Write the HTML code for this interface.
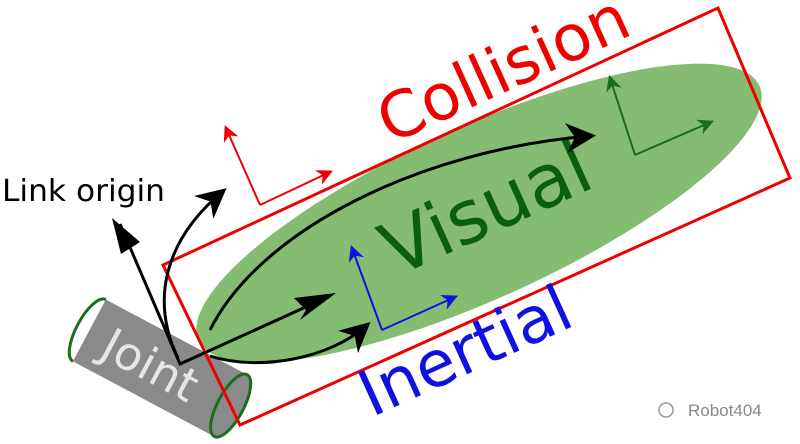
<!DOCTYPE html>
<html><head><style>html,body{margin:0;padding:0;background:#fff;}svg{display:block}</style></head>
<body>
<svg width="800" height="444" viewBox="0 0 800 444" xmlns="http://www.w3.org/2000/svg" font-family="'DejaVu Sans','Liberation Sans',sans-serif">
<defs>
<marker id="abig" viewBox="0 0 10 10" refX="8" refY="5" markerWidth="30" markerHeight="30" orient="auto" markerUnits="userSpaceOnUse"><path d="M0,0 L10,5 L0,10 L3,5z" fill="#000"/></marker>
<marker id="ar" viewBox="0 0 10 10" refX="8" refY="5" markerWidth="16" markerHeight="16" orient="auto" markerUnits="userSpaceOnUse"><path d="M0,0 L10,5 L0,10 L3,5z" fill="#e00"/></marker>
<marker id="ag" viewBox="0 0 10 10" refX="8" refY="5" markerWidth="16" markerHeight="16" orient="auto" markerUnits="userSpaceOnUse"><path d="M0,0 L10,5 L0,10 L3,5z" fill="#1a6e1a"/></marker>
<marker id="abl" viewBox="0 0 10 10" refX="8" refY="5" markerWidth="16" markerHeight="16" orient="auto" markerUnits="userSpaceOnUse"><path d="M0,0 L10,5 L0,10 L3,5z" fill="#1010e0"/></marker>
</defs>
<ellipse cx="479" cy="213" rx="308" ry="86" transform="rotate(-24.4 479 213)" fill="#84bd72"/>
<g transform="rotate(28 160 368)">
<rect x="80" y="333" width="160" height="70" fill="#8a8a8a"/>
<ellipse cx="240" cy="368" rx="13" ry="35" fill="#8a8a8a" stroke="#1a6e1a" stroke-width="3"/>
<path d="M80,333 A13,35 0 0 0 80,403" fill="none" stroke="#1a6e1a" stroke-width="3"/>
<text x="150" y="386" font-size="46" fill="#e6e6e6" text-anchor="middle">Joint</text>
</g>
<polygon points="163,265 718,8 790,178 240,425" fill="none" stroke="#e00" stroke-width="3"/>
<text transform="translate(505,73) rotate(-24.4)" font-size="64" fill="#e00" text-anchor="middle" dominant-baseline="middle">Collision</text>
<text transform="translate(488,213) rotate(-24.4)" font-size="74" fill="#0b5e0b" text-anchor="middle" dominant-baseline="middle">Visual</text>
<text transform="translate(467,355) rotate(-24.4)" font-size="64" fill="#1010e0" text-anchor="middle" dominant-baseline="middle">Inertial</text>
<text x="2" y="201" font-size="30" fill="#000" textLength="163" lengthAdjust="spacingAndGlyphs">Link origin</text>
<g stroke="#000" stroke-width="3" fill="none">
<path d="M120,224 L180,364 L330,296" />
<path d="M178,358 C150,300 165,240 222,192" marker-end="url(#abig)"/>
<path d="M210,330 C260,230 420,150 590,136" marker-end="url(#abig)"/>
<path d="M210,356 C260,372 330,358 366,326" marker-end="url(#abig)"/>
</g>
<path d="M112,218 L140,242 L121,254z" fill="#000"/>
<path d="M336,293 L294,298 L306,310 L300,320z" fill="#000"/>
<g stroke="#e00" stroke-width="2" fill="none">
<path d="M260,205 L330,172" marker-end="url(#ar)"/>
<path d="M260,205 L226,128" marker-end="url(#ar)"/>
</g>
<g stroke="#1a6e1a" stroke-width="2" fill="none">
<path d="M635,155 L711,122" marker-end="url(#ag)"/>
<path d="M635,155 L610,78" marker-end="url(#ag)"/>
</g>
<g stroke="#1010e0" stroke-width="2" fill="none">
<path d="M382,330 L455,297" marker-end="url(#abl)"/>
<path d="M382,330 L352,248" marker-end="url(#abl)"/>
</g>
<text x="688" y="416" font-size="17" fill="#888" font-family="'Liberation Sans',sans-serif">Robot404</text>
<circle cx="666" cy="410" r="7" fill="none" stroke="#999" stroke-width="1.5"/>
</svg>
</body></html>
